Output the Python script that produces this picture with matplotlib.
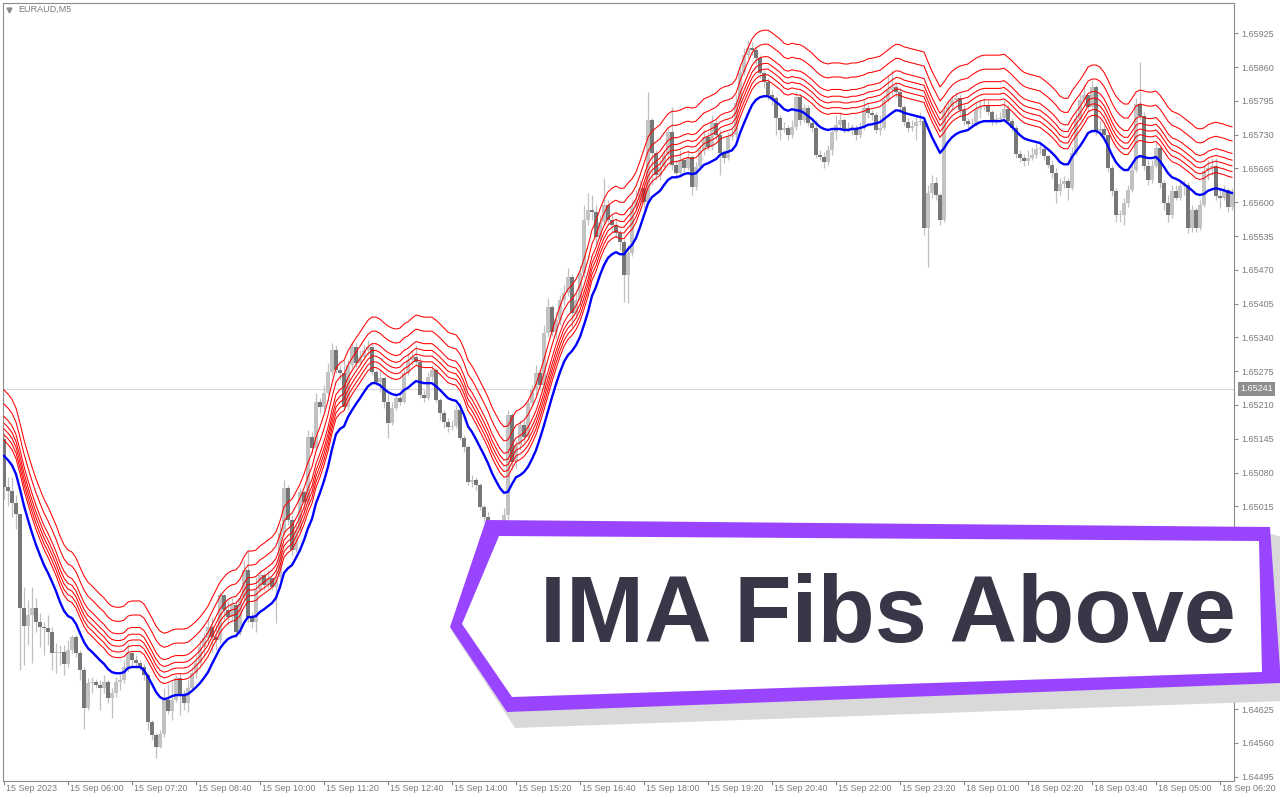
import numpy as np
import matplotlib.pyplot as plt
from matplotlib.patches import Polygon
from matplotlib.transforms import blended_transform_factory

plt.rcParams['font.family'] = ['Liberation Sans', 'DejaVu Sans']

# EURAUD M5 candles, prices in points above 1.60000 (1 point = 0.00001)
first_open = 5145
close_pts = [
    5052, 5045, 5021, 5000, 4820, 4785, 4806, 4820, 4793, 4783,
    4781, 4773, 4733, 4733, 4735, 4712, 4739, 4764, 4733, 4700,
    4627, 4675, 4677, 4671, 4666, 4677, 4646, 4656, 4677, 4681,
    4706, 4733, 4719, 4714, 4706, 4691, 4600, 4575, 4552, 4577,
    4642, 4621, 4642, 4685, 4654, 4637, 4666, 4694, 4714, 4744,
    4762, 4783, 4764, 4758, 4845, 4816, 4802, 4825, 4773, 4839,
    4893, 4802, 4793, 4854, 4883, 4864, 4877, 4860, 4879, 4964,
    5050, 4989, 4931, 4970, 5043, 5023, 5148, 5127, 5216, 5206,
    5233, 5273, 5316, 5277, 5271, 5206, 5287, 5322, 5291, 5302,
    5316, 5322, 5273, 5254, 5262, 5216, 5175, 5204, 5223, 5216,
    5271, 5296, 5302, 5293, 5229, 5223, 5264, 5277, 5220, 5195,
    5177, 5168, 5170, 5200, 5147, 5129, 5062, 5066, 5056, 5014,
    4995, 4975, 4954, 4970, 4950, 4998, 5191, 5100, 5133, 5172,
    5148, 5214, 5239, 5271, 5248, 5348, 5399, 5350, 5373, 5412,
    5425, 5456, 5387, 5412, 5464, 5566, 5585, 5581, 5533, 5562,
    5595, 5566, 5556, 5541, 5524, 5460, 5502, 5591, 5604, 5627,
    5600, 5758, 5695, 5652, 5668, 5691, 5735, 5672, 5656, 5681,
    5666, 5687, 5629, 5668, 5700, 5726, 5706, 5752, 5729, 5695,
    5685, 5726, 5729, 5791, 5850, 5883, 5897, 5893, 5877, 5849,
    5831, 5806, 5801, 5762, 5739, 5743, 5729, 5745, 5802, 5758,
    5781, 5752, 5743, 5691, 5687, 5677, 5700, 5735, 5749, 5758,
    5739, 5743, 5743, 5729, 5745, 5781, 5772, 5768, 5739, 5743,
    5797, 5816, 5822, 5812, 5783, 5754, 5743, 5747, 5754, 5756,
    5550, 5618, 5637, 5614, 5566, 5776, 5783, 5797, 5801, 5777,
    5756, 5751, 5751, 5779, 5783, 5785, 5774, 5756, 5760, 5762,
    5779, 5756, 5743, 5693, 5685, 5679, 5685, 5691, 5702, 5702,
    5689, 5672, 5656, 5622, 5635, 5641, 5627, 5695, 5760, 5797,
    5806, 5783, 5822, 5737, 5741, 5729, 5666, 5622, 5575, 5575,
    5599, 5624, 5662, 5789, 5766, 5670, 5643, 5670, 5704, 5637,
    5599, 5575, 5622, 5608, 5631, 5633, 5550, 5585, 5550, 5595,
    5660, 5666, 5670, 5612, 5608, 5624, 5591, 5618,
]
high_pts = [
    5152, 5071, 5071, 5037, 5000, 4860, 4835, 4860, 4839, 4810,
    4793, 4806, 4783, 4752, 4748, 4748, 4758, 4767, 4767, 4739,
    4706, 4685, 4687, 4683, 4681, 4691, 4681, 4666, 4687, 4694,
    4719, 4752, 4739, 4729, 4719, 4712, 4694, 4604, 4579, 4585,
    4666, 4671, 4681, 4691, 4694, 4662, 4681, 4706, 4729, 4758,
    4771, 4796, 4802, 4787, 4850, 4845, 4835, 4839, 4835, 4845,
    4912, 4931, 4812, 4879, 4893, 4887, 4893, 4873, 4893, 4983,
    5066, 5056, 4998, 4979, 5050, 5046, 5162, 5158, 5233, 5223,
    5248, 5291, 5329, 5325, 5287, 5296, 5296, 5331, 5329, 5316,
    5325, 5335, 5329, 5277, 5277, 5258, 5233, 5216, 5229, 5229,
    5281, 5310, 5316, 5325, 5302, 5239, 5273, 5287, 5281, 5223,
    5200, 5185, 5181, 5210, 5214, 5152, 5133, 5075, 5071, 5060,
    5018, 5004, 4985, 4985, 4979, 5012, 5200, 5195, 5143, 5181,
    5181, 5223, 5248, 5287, 5277, 5364, 5416, 5402, 5389, 5422,
    5441, 5474, 5462, 5427, 5479, 5595, 5618, 5614, 5595, 5575,
    5647, 5604, 5575, 5570, 5547, 5530, 5518, 5604, 5624, 5643,
    5637, 5812, 5762, 5700, 5681, 5700, 5743, 5783, 5681, 5700,
    5685, 5700, 5691, 5677, 5710, 5739, 5735, 5768, 5758, 5739,
    5700, 5735, 5743, 5806, 5864, 5897, 5912, 5908, 5897, 5883,
    5854, 5839, 5816, 5804, 5768, 5754, 5749, 5758, 5812, 5810,
    5789, 5787, 5758, 5758, 5700, 5697, 5710, 5743, 5768, 5774,
    5762, 5754, 5751, 5749, 5754, 5797, 5789, 5777, 5774, 5768,
    5806, 5845, 5854, 5829, 5820, 5787, 5762, 5758, 5768, 5774,
    5758, 5633, 5652, 5649, 5618, 5787, 5797, 5806, 5812, 5806,
    5789, 5762, 5762, 5791, 5797, 5801, 5797, 5777, 5770, 5774,
    5797, 5787, 5762, 5749, 5700, 5693, 5700, 5706, 5714, 5712,
    5708, 5691, 5681, 5666, 5647, 5650, 5647, 5706, 5774, 5808,
    5826, 5806, 5835, 5826, 5758, 5749, 5729, 5672, 5627, 5585,
    5608, 5633, 5672, 5801, 5870, 5774, 5681, 5681, 5716, 5710,
    5643, 5614, 5633, 5633, 5643, 5643, 5639, 5595, 5589, 5604,
    5672, 5681, 5685, 5685, 5627, 5633, 5627, 5627,
]
low_pts = [
    5029, 5016, 4995, 4971, 4700, 4710, 4748, 4714, 4773, 4744,
    4729, 4748, 4700, 4694, 4710, 4691, 4706, 4733, 4725, 4681,
    4587, 4623, 4656, 4666, 4623, 4656, 4637, 4608, 4648, 4662,
    4675, 4698, 4706, 4704, 4700, 4681, 4585, 4565, 4531, 4550,
    4571, 4616, 4604, 4639, 4614, 4623, 4619, 4662, 4685, 4710,
    4725, 4752, 4733, 4739, 4752, 4796, 4787, 4796, 4764, 4767,
    4835, 4793, 4781, 4773, 4850, 4854, 4858, 4854, 4791, 4873,
    4960, 4979, 4921, 4927, 4964, 5004, 5018, 5120, 5123, 5195,
    5200, 5229, 5268, 5271, 5258, 5200, 5200, 5281, 5283, 5287,
    5296, 5306, 5268, 5248, 5235, 5204, 5147, 5172, 5200, 5210,
    5214, 5268, 5287, 5287, 5223, 5216, 5220, 5258, 5216, 5181,
    5166, 5158, 5162, 5166, 5143, 5120, 5056, 5052, 5046, 5008,
    4985, 4966, 4941, 4935, 4931, 4941, 4989, 5085, 5089, 5123,
    5139, 5143, 5210, 5229, 5239, 5239, 5343, 5343, 5339, 5364,
    5402, 5420, 5360, 5377, 5402, 5454, 5556, 5566, 5518, 5527,
    5556, 5556, 5543, 5531, 5508, 5408, 5406, 5497, 5585, 5595,
    5589, 5595, 5633, 5643, 5643, 5662, 5681, 5662, 5647, 5652,
    5658, 5662, 5614, 5624, 5662, 5691, 5700, 5700, 5720, 5652,
    5675, 5681, 5720, 5724, 5783, 5845, 5877, 5883, 5864, 5839,
    5820, 5797, 5787, 5729, 5720, 5735, 5720, 5724, 5739, 5749,
    5754, 5747, 5735, 5685, 5681, 5666, 5672, 5691, 5720, 5743,
    5733, 5735, 5729, 5720, 5724, 5739, 5762, 5758, 5733, 5729,
    5739, 5793, 5806, 5802, 5774, 5747, 5735, 5737, 5720, 5749,
    5537, 5475, 5608, 5604, 5556, 5562, 5764, 5777, 5787, 5768,
    5749, 5739, 5743, 5747, 5762, 5777, 5768, 5749, 5751, 5754,
    5758, 5749, 5735, 5685, 5677, 5670, 5672, 5681, 5685, 5693,
    5681, 5666, 5647, 5599, 5614, 5627, 5604, 5624, 5691, 5758,
    5787, 5774, 5781, 5729, 5729, 5720, 5658, 5612, 5562, 5562,
    5556, 5591, 5620, 5658, 5758, 5662, 5633, 5637, 5666, 5627,
    5585, 5562, 5570, 5604, 5604, 5614, 5541, 5543, 5543, 5547,
    5591, 5643, 5652, 5604, 5589, 5604, 5581, 5585,
]
# blue IMA line, same units
ima_pts = [
    5112, 5104, 5094, 5077, 5048, 5016, 4989, 4964, 4941, 4921,
    4902, 4887, 4870, 4852, 4831, 4814, 4804, 4800, 4789, 4771,
    4754, 4742, 4735, 4727, 4719, 4712, 4702, 4696, 4694, 4694,
    4696, 4704, 4706, 4706, 4706, 4700, 4687, 4673, 4658, 4648,
    4644, 4646, 4650, 4652, 4652, 4652, 4654, 4660, 4667, 4675,
    4685, 4696, 4712, 4727, 4742, 4752, 4760, 4764, 4766, 4775,
    4791, 4802, 4802, 4804, 4812, 4817, 4823, 4829, 4839, 4860,
    4887, 4896, 4902, 4916, 4931, 4950, 4973, 4991, 5021, 5041,
    5064, 5091, 5125, 5154, 5164, 5169, 5187, 5200, 5212, 5223,
    5235, 5246, 5252, 5252, 5248, 5241, 5235, 5231, 5229, 5231,
    5239, 5243, 5250, 5256, 5254, 5252, 5252, 5252, 5246, 5239,
    5231, 5223, 5220, 5218, 5208, 5191, 5169, 5158, 5144, 5129,
    5114, 5098, 5079, 5064, 5050, 5041, 5043, 5058, 5071, 5075,
    5081, 5091, 5106, 5123, 5146, 5171, 5198, 5225, 5250, 5273,
    5293, 5306, 5314, 5325, 5341, 5364, 5389, 5420, 5437, 5460,
    5479, 5493, 5500, 5504, 5500, 5500, 5510, 5518, 5531, 5552,
    5575, 5598, 5610, 5616, 5622, 5633, 5643, 5648, 5648, 5650,
    5654, 5656, 5654, 5656, 5664, 5672, 5675, 5679, 5683, 5691,
    5695, 5697, 5700, 5710, 5733, 5752, 5770, 5787, 5797, 5802,
    5804, 5804, 5799, 5793, 5787, 5779, 5776, 5779, 5777, 5776,
    5772, 5766, 5760, 5752, 5745, 5741, 5739, 5741, 5741, 5741,
    5739, 5739, 5741, 5741, 5743, 5745, 5749, 5750, 5752, 5754,
    5760, 5766, 5772, 5777, 5776, 5772, 5770, 5768, 5766, 5764,
    5762, 5743, 5725, 5710, 5695, 5704, 5716, 5725, 5731, 5735,
    5737, 5739, 5745, 5750, 5754, 5756, 5756, 5756, 5756, 5756,
    5758, 5752, 5745, 5737, 5729, 5723, 5720, 5718, 5716, 5714,
    5708, 5702, 5695, 5687, 5677, 5673, 5673, 5687, 5698, 5708,
    5720, 5733, 5737, 5737, 5733, 5723, 5708, 5691, 5677, 5668,
    5662, 5662, 5673, 5685, 5689, 5687, 5685, 5685, 5687, 5679,
    5668, 5656, 5648, 5645, 5641, 5635, 5629, 5623, 5616, 5614,
    5616, 5622, 5625, 5627, 5625, 5623, 5620, 5618,
]
# distance of each red fib line above the IMA, in points
fib_pts = [30, 41, 52, 63, 76, 100, 127]

bid = 1.65241
price_ticks = [1.64495, 1.64560, 1.64625, 1.64690, 1.64755, 1.64820, 1.64885,
               1.64950, 1.65015, 1.65080, 1.65145, 1.65210, 1.65275, 1.65340,
               1.65405, 1.65470, 1.65535, 1.65600, 1.65665, 1.65730, 1.65795,
               1.65860, 1.65925]
time_labels = ['15 Sep 2023', '15 Sep 06:00', '15 Sep 07:20', '15 Sep 08:40',
               '15 Sep 10:00', '15 Sep 11:20', '15 Sep 12:40', '15 Sep 14:00',
               '15 Sep 15:20', '15 Sep 16:40', '15 Sep 18:00', '15 Sep 19:20',
               '15 Sep 20:40', '15 Sep 22:00', '15 Sep 23:20', '18 Sep 01:00',
               '18 Sep 02:20', '18 Sep 03:40', '18 Sep 05:00', '18 Sep 06:20']


def to_price(v):
    return 1.6 + np.asarray(v, dtype=float) / 1e5


c = to_price(close_pts)
h = to_price(high_pts)
l = to_price(low_pts)
o = np.r_[to_price(first_open), c[:-1]]
ima = to_price(ima_pts)
x = np.arange(len(c))

fig = plt.figure(figsize=(12.8, 8), dpi=100)
fig.patch.set_facecolor('white')
ax = fig.add_axes([3 / 1280, 19 / 800, 1231 / 1280, 778 / 800])
ax.set_xlim(-0.25, 307.5)
ax.set_ylim(1.644867, 1.659833)

grey = '#8c8c8c'
txt_grey = '#7a7a7a'

# bid line
ax.axhline(bid, color='#d6d6d6', lw=0.8, zorder=1)

# candles
ax.vlines(x, l, h, color='#c0c0c0', lw=0.9, zorder=2)
up = c >= o
body_lo = np.minimum(o, c)
body_h = np.maximum(np.abs(c - o), 0.000015)
ax.bar(x[up], body_h[up], bottom=body_lo[up], width=0.8,
       color='#c2c2c2', lw=0, zorder=3, antialiased=False)
ax.bar(x[~up], body_h[~up], bottom=body_lo[~up], width=0.8,
       color='#777777', lw=0, zorder=3, antialiased=False)

# fib lines above the IMA
for d in fib_pts:
    ax.plot(x, ima + d / 1e5, color='#ff0000', lw=0.75, zorder=4)
ax.plot(x, ima, color='#0000ff', lw=1.7, zorder=5)

# axes styling
for s in ax.spines.values():
    s.set_color(grey)
    s.set_linewidth(0.8)
ax.yaxis.tick_right()
ax.set_yticks(price_ticks)
ax.set_yticklabels([f'{v:.5f}' for v in price_ticks])
ax.tick_params(axis='y', length=3, width=0.8, color=grey,
               labelcolor=txt_grey, labelsize=6.5, pad=2)
ax.set_xticks(range(0, len(c), 16))
ax.set_xticklabels([])
ax.tick_params(axis='x', length=3, width=0.8, color=grey)

trans = blended_transform_factory(ax.transData, ax.transAxes)
for i, lab in zip(range(0, len(c), 16), time_labels):
    ax.text(i + 0.4, -0.0095, lab, transform=trans, ha='left', va='center',
            fontsize=6.5, color=txt_grey)

# bid label on the price scale
tb = blended_transform_factory(ax.transAxes, ax.transData)
ax.text(1.0 + 6 / 1231, bid, f'{bid:.5f}', transform=tb, ha='left',
        va='center', fontsize=6.5, color='white', clip_on=False,
        bbox=dict(boxstyle='square,pad=0.25', fc='#8e8e8e', ec='none'))

# symbol caption
ax.plot([0.0045], [0.9915], marker='v', ms=3.5, color='#8a8a8a',
        transform=ax.transAxes, clip_on=False)
ax.text(0.0125, 0.9915, 'EURAUD,M5', transform=ax.transAxes, ha='left',
        va='center', fontsize=6.5, color=txt_grey)

# title banner overlay (figure pixel coordinates)
ov = fig.add_axes([0, 0, 1, 1])
ov.set_xlim(0, 1280)
ov.set_ylim(800, 0)
ov.axis('off')
ov.patch.set_visible(False)
shadow = [(451, 630), (515, 728), (1284, 701), (1284, 538), (1272, 534)]
outer = [(486, 520), (1270, 527), (1281, 683), (507, 712), (450, 627)]
inner = [(499, 536), (1259, 541), (1262, 672), (512, 697), (462, 624)]
ov.add_patch(Polygon(shadow, closed=True, fc='#d9d9d9', ec='none', zorder=1))
ov.add_patch(Polygon(outer, closed=True, fc='#9945ff', ec='none', zorder=2))
ov.add_patch(Polygon(inner, closed=True, fc='white', ec='none', zorder=3))
ov.text(540, 642, 'IMA Fibs Above', fontsize=67.5, fontweight='bold',
        color='#373748', ha='left', va='baseline', zorder=4)

fig.savefig('out.png', dpi=100)
